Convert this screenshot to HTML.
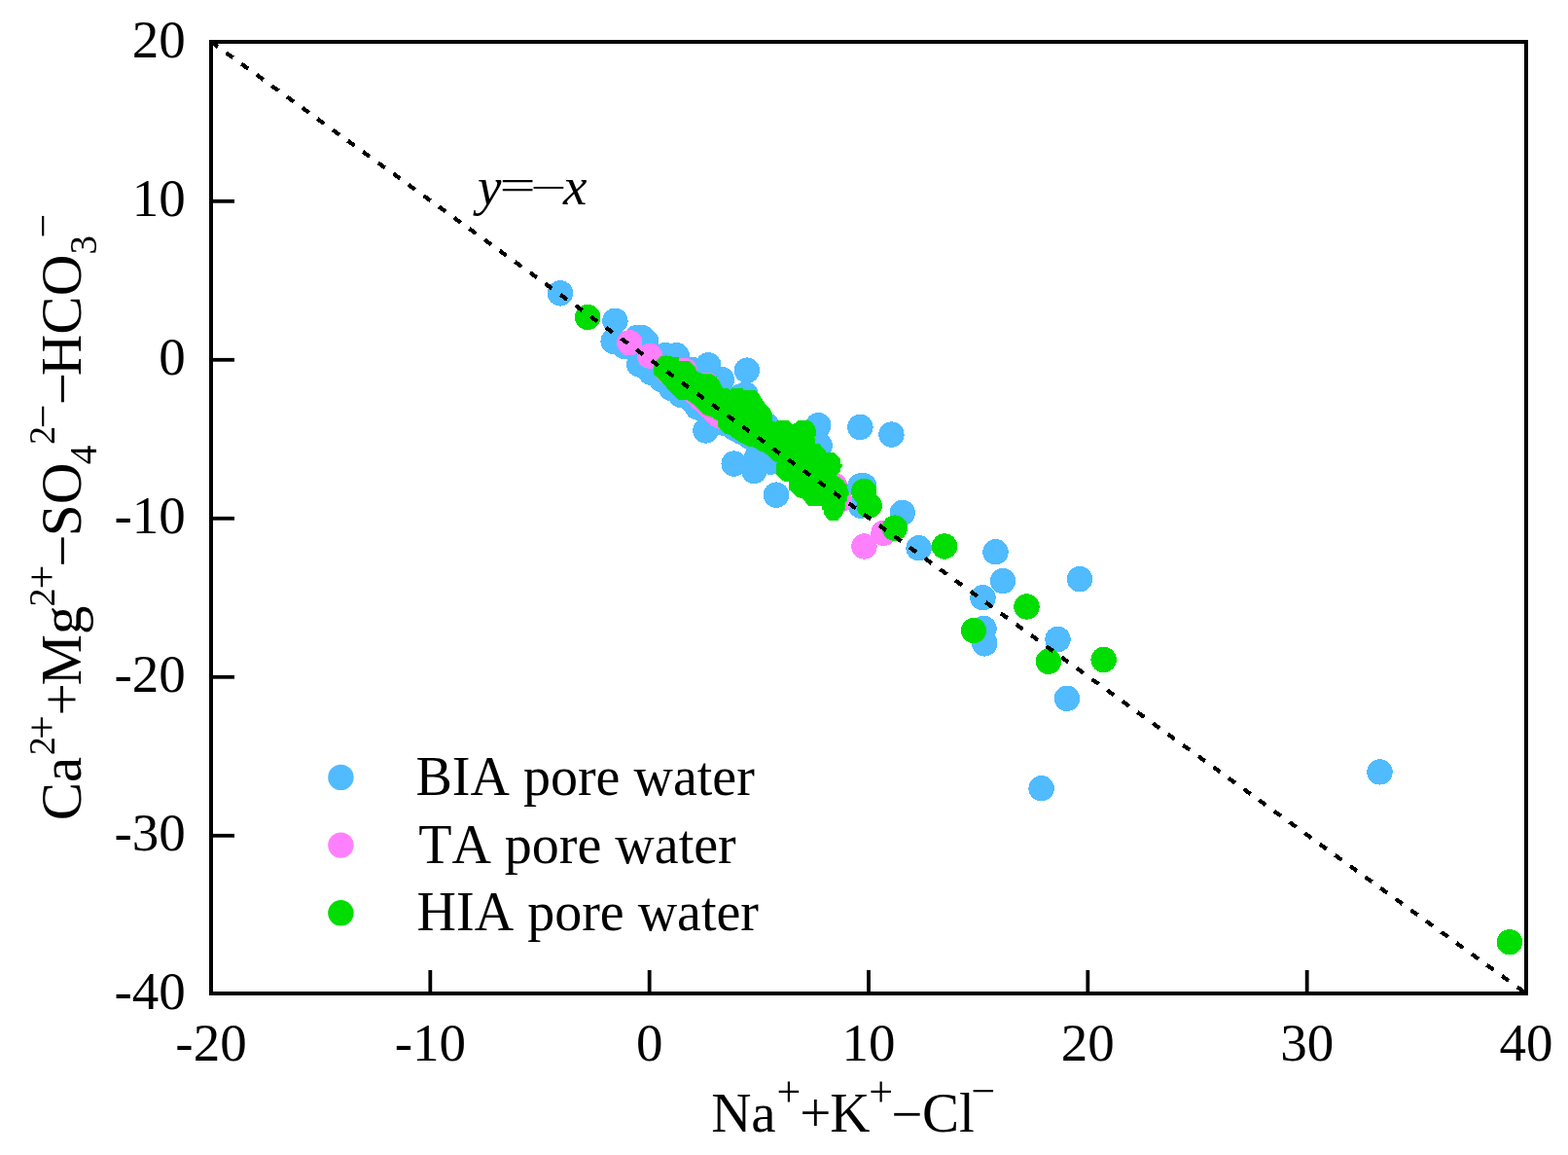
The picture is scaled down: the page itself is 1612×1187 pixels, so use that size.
<!DOCTYPE html>
<html><head><meta charset="utf-8"><title>plot</title>
<style>html,body{margin:0;padding:0;background:#fff;}svg{display:block;}text{font-kerning:none;}</style>
</head><body><svg width="1612" height="1187" viewBox="0 0 1612 1187"><rect width="100%" height="100%" fill="#fff"/><g fill="#50BBFF" shape-rendering="crispEdges"><circle cx="576.0" cy="301.4" r="13.2"/><circle cx="632.4" cy="329.8" r="13.2"/><circle cx="630.6" cy="350.8" r="13.2"/><circle cx="654.6" cy="347.1" r="13.2"/><circle cx="660.2" cy="347.1" r="13.2"/><circle cx="664.3" cy="351.3" r="13.2"/><circle cx="642.0" cy="356.0" r="13.2"/><circle cx="657.1" cy="374.5" r="13.2"/><circle cx="684.0" cy="365.2" r="13.2"/><circle cx="695.6" cy="365.2" r="13.2"/><circle cx="712.5" cy="380.3" r="13.2"/><circle cx="728.2" cy="375.3" r="13.2"/><circle cx="741.8" cy="390.1" r="13.2"/><circle cx="767.9" cy="380.6" r="13.2"/><circle cx="766.5" cy="405.5" r="13.2"/><circle cx="760.0" cy="408.0" r="13.2"/><circle cx="669.3" cy="382.8" r="13.2"/><circle cx="680.0" cy="390.0" r="13.2"/><circle cx="690.0" cy="399.0" r="13.2"/><circle cx="700.0" cy="406.0" r="13.2"/><circle cx="711.0" cy="411.0" r="13.2"/><circle cx="717.0" cy="418.5" r="13.2"/><circle cx="725.5" cy="442.5" r="13.2"/><circle cx="744.5" cy="434.9" r="13.2"/><circle cx="755.0" cy="440.0" r="13.2"/><circle cx="762.2" cy="443.7" r="13.2"/><circle cx="771.1" cy="449.0" r="13.2"/><circle cx="780.0" cy="452.0" r="13.2"/><circle cx="754.7" cy="476.6" r="13.2"/><circle cx="775.4" cy="484.0" r="13.2"/><circle cx="792.0" cy="474.6" r="13.2"/><circle cx="778.0" cy="470.0" r="13.2"/><circle cx="786.0" cy="470.0" r="13.2"/><circle cx="798.0" cy="508.6" r="13.2"/><circle cx="788.0" cy="437.0" r="13.2"/><circle cx="841.3" cy="437.3" r="13.2"/><circle cx="842.6" cy="458.0" r="13.2"/><circle cx="884.4" cy="439.0" r="13.2"/><circle cx="916.4" cy="446.6" r="13.2"/><circle cx="884.5" cy="499.4" r="13.2"/><circle cx="888.0" cy="499.4" r="13.2"/><circle cx="885.0" cy="519.6" r="13.2"/><circle cx="927.7" cy="527.0" r="13.2"/><circle cx="944.6" cy="563.2" r="13.2"/><circle cx="1023.5" cy="567.2" r="13.2"/><circle cx="1031.0" cy="597.1" r="13.2"/><circle cx="1110.0" cy="595.2" r="13.2"/><circle cx="1010.5" cy="614.2" r="13.2"/><circle cx="1011.5" cy="646.0" r="13.2"/><circle cx="1012.3" cy="661.4" r="13.2"/><circle cx="1087.5" cy="657.0" r="13.2"/><circle cx="1096.9" cy="717.8" r="13.2"/><circle cx="1070.6" cy="810.2" r="13.2"/><circle cx="1418.5" cy="793.4" r="13.2"/></g><g fill="#FF80FF" shape-rendering="crispEdges"><circle cx="647.3" cy="352.3" r="13.2"/><circle cx="668.1" cy="365.7" r="13.2"/><circle cx="685.6" cy="381.0" r="13.2"/><circle cx="703.6" cy="380.9" r="13.2"/><circle cx="727.0" cy="395.8" r="13.2"/><circle cx="714.3" cy="403.3" r="13.2"/><circle cx="721.3" cy="410.0" r="13.2"/><circle cx="728.3" cy="416.7" r="13.2"/><circle cx="735.3" cy="423.4" r="13.2"/><circle cx="740.0" cy="427.5" r="13.2"/><circle cx="858.0" cy="499.0" r="13.2"/><circle cx="863.0" cy="514.0" r="13.2"/><circle cx="908.5" cy="547.8" r="13.2"/><circle cx="888.5" cy="561.5" r="13.2"/></g><g fill="#00DD00" shape-rendering="crispEdges"><circle cx="604.2" cy="326.0" r="13.2"/><circle cx="685.2" cy="378.6" r="13.2"/><circle cx="888.3" cy="505.0" r="13.2"/><circle cx="893.7" cy="519.6" r="13.2"/><circle cx="919.9" cy="542.6" r="13.2"/><circle cx="971.0" cy="561.5" r="13.2"/><circle cx="1055.5" cy="623.5" r="13.2"/><circle cx="1001.0" cy="648.0" r="13.2"/><circle cx="1077.9" cy="679.8" r="13.2"/><circle cx="1134.6" cy="678.0" r="13.2"/><circle cx="1552.0" cy="968.3" r="13.2"/></g><polygon shape-rendering="crispEdges" fill="#00DD00" points="672.0,384.0 672.0,375.2 674.5,371.0 677.0,368.0 680.1,365.7 690.6,365.7 691.2,367.1 697.7,367.4 698.3,371.0 708.9,371.0 713.0,375.1 715.4,378.6 717.1,382.2 723.0,384.0 731.9,384.2 736.0,386.9 739.0,390.4 740.1,393.4 741.9,396.9 743.7,399.0 749.1,399.2 750.5,401.0 752.7,399.2 763.9,399.2 764.5,401.0 775.7,401.0 776.8,401.6 780.4,405.1 783.3,409.8 786.3,414.5 791.0,419.2 793.9,424.6 794.1,433.0 798.0,433.6 799.7,431.8 810.9,431.8 813.3,435.3 815.7,435.9 818.0,434.2 821.0,431.8 831.0,431.8 834.0,433.6 836.9,437.1 838.7,441.2 838.7,448.3 837.5,449.5 837.5,456.0 842.8,456.3 844.0,458.3 848.7,463.6 848.7,465.4 857.5,465.4 860.0,467.4 862.4,469.7 863.9,471.5 863.9,476.8 865.6,477.4 865.6,480.3 863.9,480.9 863.9,485.0 860.0,488.6 863.6,490.9 867.7,494.5 870.7,498.6 871.3,501.6 873.0,506.3 873.0,508.6 871.3,510.4 871.3,515.1 868.9,516.3 868.9,524.0 867.7,525.1 865.4,529.9 862.4,532.8 861.8,535.0 852.4,535.0 847.1,528.7 847.1,524.0 845.0,523.4 845.0,520.4 843.1,519.8 831.9,519.8 830.7,518.9 824.8,512.5 818.9,510.7 815.4,506.6 810.7,503.0 810.7,495.4 804.8,494.2 800.0,489.5 798.0,487.7 798.0,476.5 799.5,475.9 795.6,473.7 792.1,470.1 785.0,464.8 780.0,463.1 773.7,459.0 768.4,458.4 763.7,456.0 756.6,451.9 749.5,446.6 744.8,445.4 740.1,440.7 737.7,438.9 737.7,432.4 731.8,428.9 723.6,425.9 714.7,417.1 707.1,411.2 700.0,410.9 697.0,411.0 688.9,402.2 680.1,392.7"/><line x1="217" y1="43" x2="1569" y2="1021" stroke="#000" stroke-width="4.2" stroke-dasharray="8.6 10.67" shape-rendering="crispEdges"/><rect x="217" y="43" width="1352" height="978" fill="none" stroke="#000" stroke-width="4"/><line x1="442.33" y1="1021" x2="442.33" y2="997" stroke="#000" stroke-width="3.8"/><line x1="667.67" y1="1021" x2="667.67" y2="997" stroke="#000" stroke-width="3.8"/><line x1="893.00" y1="1021" x2="893.00" y2="997" stroke="#000" stroke-width="3.8"/><line x1="1118.33" y1="1021" x2="1118.33" y2="997" stroke="#000" stroke-width="3.8"/><line x1="1343.67" y1="1021" x2="1343.67" y2="997" stroke="#000" stroke-width="3.8"/><line x1="217" y1="858.80" x2="241" y2="858.80" stroke="#000" stroke-width="3.8"/><line x1="217" y1="695.80" x2="241" y2="695.80" stroke="#000" stroke-width="3.8"/><line x1="217" y1="532.80" x2="241" y2="532.80" stroke="#000" stroke-width="3.8"/><line x1="217" y1="369.80" x2="241" y2="369.80" stroke="#000" stroke-width="3.8"/><line x1="217" y1="206.80" x2="241" y2="206.80" stroke="#000" stroke-width="3.8"/><text x="217.00" y="1089.5" font-family="'Liberation Serif','Times New Roman',serif" font-size="55" text-anchor="middle">-20</text><text x="442.33" y="1089.5" font-family="'Liberation Serif','Times New Roman',serif" font-size="55" text-anchor="middle">-10</text><text x="667.67" y="1089.5" font-family="'Liberation Serif','Times New Roman',serif" font-size="55" text-anchor="middle">0</text><text x="893.00" y="1089.5" font-family="'Liberation Serif','Times New Roman',serif" font-size="55" text-anchor="middle">10</text><text x="1118.33" y="1089.5" font-family="'Liberation Serif','Times New Roman',serif" font-size="55" text-anchor="middle">20</text><text x="1343.67" y="1089.5" font-family="'Liberation Serif','Times New Roman',serif" font-size="55" text-anchor="middle">30</text><text x="1569.00" y="1089.5" font-family="'Liberation Serif','Times New Roman',serif" font-size="55" text-anchor="middle">40</text><text x="190.8" y="1037.40" font-family="'Liberation Serif','Times New Roman',serif" font-size="55" text-anchor="end">-40</text><text x="190.8" y="874.40" font-family="'Liberation Serif','Times New Roman',serif" font-size="55" text-anchor="end">-30</text><text x="190.8" y="711.40" font-family="'Liberation Serif','Times New Roman',serif" font-size="55" text-anchor="end">-20</text><text x="190.8" y="548.40" font-family="'Liberation Serif','Times New Roman',serif" font-size="55" text-anchor="end">-10</text><text x="190.8" y="385.40" font-family="'Liberation Serif','Times New Roman',serif" font-size="55" text-anchor="end">0</text><text x="190.8" y="222.40" font-family="'Liberation Serif','Times New Roman',serif" font-size="55" text-anchor="end">10</text><text x="190.8" y="59.40" font-family="'Liberation Serif','Times New Roman',serif" font-size="55" text-anchor="end">20</text><text x="491" y="210.3" font-family="'Liberation Serif','Times New Roman',serif" font-style="italic" font-size="55" text-anchor="start" >y</text><text transform="translate(532,206) scale(1.2,0.86)" x="0" y="0" font-family="'Liberation Serif','Times New Roman',serif" font-size="55" text-anchor="middle">=</text><text transform="translate(563.8,206.4) scale(1.2,0.72)" x="0" y="0" font-family="'Liberation Serif','Times New Roman',serif" font-size="55" text-anchor="middle">&#8722;</text><text x="578.9" y="210.3" font-family="'Liberation Serif','Times New Roman',serif" font-style="italic" font-size="55" text-anchor="start" >x</text><circle cx="350.4" cy="798.9" r="13.2" fill="#50BBFF"/><circle cx="350.4" cy="868.6" r="13.2" fill="#FF80FF"/><circle cx="350.4" cy="938.3" r="13.2" fill="#00DD00"/><text x="427.5" y="817.0" font-family="'Liberation Serif','Times New Roman',serif" font-size="56" text-anchor="start" >BIA pore water</text><text x="430.2" y="886.7" font-family="'Liberation Serif','Times New Roman',serif" font-size="56" text-anchor="start" >TA pore water</text><text x="428.6" y="956.4" font-family="'Liberation Serif','Times New Roman',serif" font-size="56" text-anchor="start" >HIA pore water</text><text x="731.2" y="1162.5" font-family="'Liberation Serif','Times New Roman',serif" font-size="57" text-anchor="start" >Na</text><text x="810.9" y="1136.5" font-family="'Liberation Serif','Times New Roman',serif" font-size="44" text-anchor="middle" >+</text><text x="838.3" y="1162.5" font-family="'Liberation Serif','Times New Roman',serif" font-size="57" text-anchor="middle" >+</text><text x="853.3" y="1162.5" font-family="'Liberation Serif','Times New Roman',serif" font-size="57" text-anchor="start" >K</text><text x="905.6" y="1136.5" font-family="'Liberation Serif','Times New Roman',serif" font-size="44" text-anchor="middle" >+</text><text x="932.4" y="1163.5" font-family="'Liberation Serif','Times New Roman',serif" font-size="57" text-anchor="middle" >&#8722;</text><text x="948" y="1162.5" font-family="'Liberation Serif','Times New Roman',serif" font-size="57" text-anchor="start" >Cl</text><text x="1010.9" y="1136" font-family="'Liberation Serif','Times New Roman',serif" font-size="44" text-anchor="middle" >&#8722;</text><text transform="rotate(-90)" x="-843.3" y="82.7" font-family="'Liberation Serif','Times New Roman',serif" font-size="59" text-anchor="start">Ca</text><text transform="rotate(-90)" x="-776.2" y="55.8" font-family="'Liberation Serif','Times New Roman',serif" font-size="38" text-anchor="start">2</text><text transform="rotate(-90)" x="-747.5" y="58.30800000000001" font-family="'Liberation Serif','Times New Roman',serif" font-size="44" text-anchor="middle">+</text><text transform="rotate(-90)" x="-718.8" y="82.7" font-family="'Liberation Serif','Times New Roman',serif" font-size="59" text-anchor="middle">+</text><text transform="rotate(-90)" x="-704.5" y="82.7" font-family="'Liberation Serif','Times New Roman',serif" font-size="59" text-anchor="start">Mg</text><text transform="rotate(-90)" x="-623.5" y="55.8" font-family="'Liberation Serif','Times New Roman',serif" font-size="38" text-anchor="start">2</text><text transform="rotate(-90)" x="-593.2" y="58.30800000000001" font-family="'Liberation Serif','Times New Roman',serif" font-size="44" text-anchor="middle">+</text><text transform="rotate(-90)" x="-566.0" y="83.7" font-family="'Liberation Serif','Times New Roman',serif" font-size="59" text-anchor="middle">&#8722;</text><text transform="rotate(-90)" x="-551.2" y="82.7" font-family="'Liberation Serif','Times New Roman',serif" font-size="59" text-anchor="start">SO</text><text transform="rotate(-90)" x="-477.3" y="99.2" font-family="'Liberation Serif','Times New Roman',serif" font-size="39" text-anchor="start">4</text><text transform="rotate(-90)" x="-456.9" y="55.8" font-family="'Liberation Serif','Times New Roman',serif" font-size="38" text-anchor="start">2</text><text transform="rotate(-90)" x="-427.8" y="58.608000000000004" font-family="'Liberation Serif','Times New Roman',serif" font-size="44" text-anchor="middle">&#8722;</text><text transform="rotate(-90)" x="-399.6" y="83.7" font-family="'Liberation Serif','Times New Roman',serif" font-size="59" text-anchor="middle">&#8722;</text><text transform="rotate(-90)" x="-386.3" y="82.7" font-family="'Liberation Serif','Times New Roman',serif" font-size="59" text-anchor="start">HCO</text><text transform="rotate(-90)" x="-261.6" y="99.2" font-family="'Liberation Serif','Times New Roman',serif" font-size="39" text-anchor="start">3</text><text transform="rotate(-90)" x="-232.2" y="58.608000000000004" font-family="'Liberation Serif','Times New Roman',serif" font-size="44" text-anchor="middle">&#8722;</text></svg></body></html>
